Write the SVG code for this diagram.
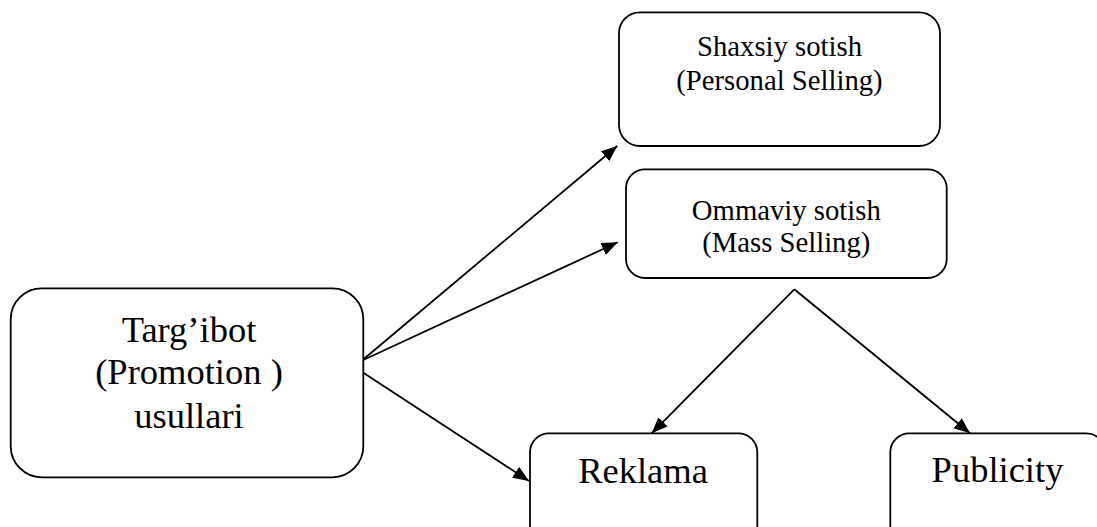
<svg xmlns="http://www.w3.org/2000/svg" width="1097" height="527" viewBox="0 0 1097 527">
<style>
.box{fill:#fff;stroke:#000;stroke-width:1.8}
.t{font-family:"Liberation Serif","Times New Roman",serif;fill:#000;text-anchor:middle}
.big{font-size:36.5px}
.sm{font-size:28.7px}
.c{stroke:#000;stroke-width:1.8;fill:none;marker-end:url(#ah)}
</style>
<defs>
<marker id="ah" markerUnits="userSpaceOnUse" markerWidth="17" markerHeight="14" refX="16" refY="6.5" orient="auto">
<path d="M0,0 L16,6.5 L0,13 z" fill="#000"/>
</marker>
</defs>
<rect width="1097" height="527" fill="#fff"/>
<g id="connectors">
<line class="c" x1="361.7" y1="360.7" x2="617.3" y2="146"/>
<line class="c" x1="361.7" y1="360.7" x2="617.7" y2="242.3"/>
<line class="c" x1="363.3" y1="372.7" x2="529" y2="481"/>
<line class="c" x1="794.3" y1="289.3" x2="651.7" y2="433.3"/>
<line class="c" x1="794.3" y1="289.3" x2="970" y2="433.3"/>
</g>
<g id="node-targibot">
<rect class="box" x="10.7" y="288.3" width="352.6" height="189" rx="31" ry="31"/>
<text class="t big" x="189" y="341.7">Targ’ibot</text>
<text class="t big" x="189" y="383.5">(Promotion )</text>
<text class="t big" x="189" y="428">usullari</text>
</g>
<g id="node-shaxsiy">
<rect class="box" x="619" y="12.3" width="321" height="133.7" rx="21" ry="21"/>
<text class="t sm" x="779.5" y="55.7">Shaxsiy sotish</text>
<text class="t sm" x="779.5" y="90">(Personal Selling)</text>
</g>
<g id="node-ommaviy">
<rect class="box" x="626" y="169.3" width="320.7" height="108.7" rx="19" ry="19"/>
<text class="t sm" x="786.3" y="220">Ommaviy sotish</text>
<text class="t sm" x="786.3" y="252.3">(Mass Selling)</text>
</g>
<g id="node-reklama">
<rect class="box" x="530" y="433.3" width="227.3" height="112" rx="19" ry="19"/>
<text class="t big" x="643" y="483.3">Reklama</text>
</g>
<g id="node-publicity">
<rect class="box" x="890.3" y="433.3" width="215" height="112" rx="19" ry="19"/>
<text class="t big" x="997.5" y="482">Publicity</text>
</g>
</svg>
